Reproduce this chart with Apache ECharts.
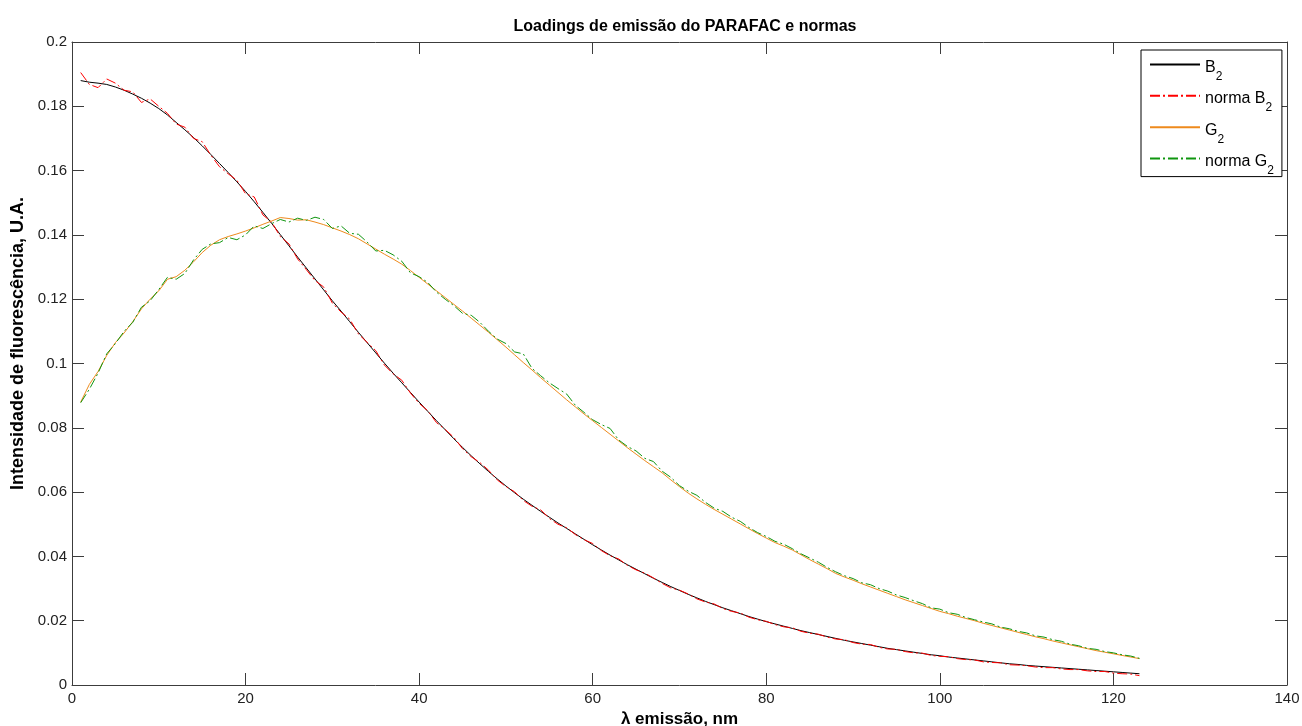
<!DOCTYPE html>
<html>
<head>
<meta charset="utf-8">
<script src="https://cdn.jsdelivr.net/npm/echarts@6/dist/echarts.min.js"></script>
<style>html,body{margin:0;padding:0;background:#fff}#c{width:1302px;height:726px}</style>
</head>
<body>
<div id="c"></div>
<script>
const titleText = 'Loadings de emissão do PARAFAC e normas';
const xName = 'λ emissão, nm';
const yName = 'Intensidade de fluorescência, U.A.';
const seriesNames = ['B2', 'norma B2', 'G2', 'norma G2'];
const legendBase = ['B', 'norma B', 'G', 'norma G'];
const legendSub = ['2', '2', '2', '2'];
const xTicks = [0, 20, 40, 60, 80, 100, 120, 140];
const yTicks = [0, 0.02, 0.04, 0.06, 0.08, 0.1, 0.12, 0.14, 0.16, 0.18, 0.2];

const lambda = Array.from({length: 123}, (_, i) => i + 1);

const B2 = [
0.1880,0.1875,0.1872,0.1868,0.1860,0.1850,0.1838,0.1825,0.1810,0.1793,
0.1773,0.1750,0.1727,0.1703,0.1677,0.1650,0.1622,0.1594,0.1565,0.1535,
0.1503,0.1470,0.1436,0.1401,0.1366,0.1331,0.1297,0.1263,0.1229,0.1195,
0.1163,0.1130,0.1097,0.1065,0.1033,0.1001,0.0970,0.0940,0.0910,0.0880,
0.0851,0.0822,0.0794,0.0766,0.0739,0.0713,0.0688,0.0664,0.0641,0.0619,
0.0598,0.0578,0.0559,0.0540,0.0522,0.0504,0.0487,0.0470,0.0453,0.0436,
0.0420,0.0404,0.0389,0.0374,0.0360,0.0346,0.0332,0.0319,0.0306,0.0294,
0.0282,0.0271,0.0260,0.0250,0.0240,0.0231,0.0222,0.0213,0.0205,0.0197,
0.0190,0.0183,0.0176,0.0169,0.0163,0.0157,0.0151,0.0145,0.0139,0.0134,
0.0129,0.0124,0.0119,0.0114,0.0110,0.0106,0.0102,0.0098,0.0094,0.0091,
0.0087,0.0084,0.0081,0.0078,0.0075,0.0072,0.0069,0.0066,0.0064,0.0061,
0.0059,0.0057,0.0055,0.0053,0.0051,0.0049,0.0047,0.0045,0.0043,0.0041,
0.0039,0.0037,0.0035];

const normaB2 = [
0.1905,0.1868,0.1858,0.1885,0.1872,0.1850,0.1845,0.1812,0.1823,0.1800,
0.1778,0.1745,0.1735,0.1700,0.1690,0.1648,0.1612,0.1590,0.1570,0.1528,
0.1518,0.1462,0.1440,0.1395,0.1372,0.1325,0.1292,0.1258,0.1238,0.1188,
0.1160,0.1138,0.1092,0.1066,0.1040,0.0995,0.0968,0.0948,0.0908,0.0876,
0.0853,0.0816,0.0795,0.0770,0.0735,0.0710,0.0692,0.0668,0.0638,0.0617,
0.0601,0.0574,0.0556,0.0545,0.0518,0.0500,0.0489,0.0468,0.0452,0.0440,
0.0418,0.0402,0.0392,0.0372,0.0358,0.0348,0.0333,0.0316,0.0302,0.0295,
0.0283,0.0268,0.0258,0.0252,0.0238,0.0229,0.0224,0.0211,0.0203,0.0198,
0.0188,0.0181,0.0178,0.0167,0.0161,0.0158,0.0149,0.0143,0.0141,0.0132,
0.0127,0.0126,0.0117,0.0112,0.0111,0.0104,0.0100,0.0099,0.0092,0.0089,
0.0088,0.0082,0.0079,0.0078,0.0072,0.0070,0.0069,0.0063,0.0062,0.0060,
0.0056,0.0054,0.0054,0.0050,0.0048,0.0048,0.0044,0.0042,0.0042,0.0037,
0.0035,0.0034,0.0029];

const G2 = [
0.0880,0.0935,0.0975,0.1025,0.1065,0.1095,0.1130,0.1170,0.1200,0.1226,
0.1262,0.1270,0.1290,0.1316,0.1345,0.1368,0.1385,0.1395,0.1403,0.1412,
0.1422,0.1433,0.1443,0.1454,0.1451,0.1446,0.1447,0.1440,0.1432,0.1422,
0.1412,0.1401,0.1388,0.1372,0.1356,0.1340,0.1325,0.1309,0.1289,0.1268,
0.1247,0.1226,0.1205,0.1184,0.1163,0.1141,0.1119,0.1097,0.1074,0.1051,
0.1027,0.1003,0.0980,0.0956,0.0933,0.0910,0.0887,0.0865,0.0843,0.0822,
0.0801,0.0780,0.0759,0.0738,0.0718,0.0698,0.0679,0.0660,0.0638,0.0617,
0.0597,0.0579,0.0562,0.0546,0.0531,0.0516,0.0501,0.0486,0.0471,0.0457,
0.0443,0.0432,0.0420,0.0405,0.0390,0.0376,0.0362,0.0347,0.0336,0.0326,
0.0315,0.0305,0.0295,0.0285,0.0275,0.0265,0.0256,0.0247,0.0238,0.0229,
0.0222,0.0214,0.0207,0.0200,0.0192,0.0185,0.0178,0.0171,0.0164,0.0157,
0.0150,0.0144,0.0137,0.0131,0.0125,0.0119,0.0113,0.0107,0.0102,0.0097,
0.0092,0.0087,0.0082];

const normaG2 = [
0.0878,0.0920,0.0970,0.1030,0.1062,0.1100,0.1128,0.1175,0.1195,0.1230,
0.1268,0.1262,0.1280,0.1322,0.1355,0.1372,0.1376,0.1392,0.1385,0.1400,
0.1428,0.1420,0.1435,0.1448,0.1440,0.1452,0.1445,0.1455,0.1448,0.1420,
0.1428,0.1405,0.1402,0.1378,0.1350,0.1352,0.1338,0.1318,0.1282,0.1270,
0.1252,0.1222,0.1200,0.1180,0.1156,0.1150,0.1128,0.1100,0.1076,0.1062,
0.1036,0.1030,0.0985,0.0962,0.0940,0.0922,0.0905,0.0870,0.0848,0.0825,
0.0810,0.0798,0.0762,0.0742,0.0728,0.0705,0.0695,0.0665,0.0646,0.0620,
0.0603,0.0590,0.0568,0.0550,0.0540,0.0522,0.0509,0.0490,0.0474,0.0462,
0.0447,0.0438,0.0424,0.0408,0.0395,0.0382,0.0366,0.0352,0.0340,0.0331,
0.0318,0.0312,0.0300,0.0292,0.0280,0.0272,0.0262,0.0253,0.0240,0.0236,
0.0225,0.0220,0.0210,0.0203,0.0196,0.0190,0.0180,0.0175,0.0167,0.0162,
0.0153,0.0149,0.0141,0.0136,0.0127,0.0122,0.0114,0.0111,0.0104,0.0100,
0.0094,0.0090,0.0083];

const seriesValues = [B2, normaB2, G2, normaG2];
const colors = ['#000000', '#ff0000', '#ee8a1c', '#0f960f'];
const dashes = ['solid', [10, 3, 2, 3], 'solid', [10, 3, 2, 3]];

const chart = echarts.init(document.getElementById('c'), null, {renderer: 'canvas'});
const FONT = 'Liberation Sans';
const axisColor = '#3c3c3c';

function baseX(pos, labels) {
  return {
    type: 'value', position: pos, min: xTicks[0], max: xTicks[xTicks.length - 1],
    interval: xTicks[1] - xTicks[0],
    axisLine: {show: true, onZero: false, lineStyle: {color: axisColor, width: 1}},
    axisTick: {show: true, inside: true, length: 12, lineStyle: {color: axisColor}},
    axisLabel: {show: labels, color: '#222', fontFamily: FONT, fontSize: 15, margin: 6},
    splitLine: {show: false}
  };
}
function baseY(pos, labels) {
  return {
    type: 'value', position: pos, min: yTicks[0], max: yTicks[yTicks.length - 1],
    interval: 0.02,
    axisLine: {show: true, onZero: false, lineStyle: {color: axisColor, width: 1}},
    axisTick: {show: true, inside: true, length: 12, lineStyle: {color: axisColor}},
    axisLabel: {show: labels, color: '#222', fontFamily: FONT, fontSize: 15, margin: 5,
      formatter: v => String(+v.toFixed(2))},
    splitLine: {show: false}
  };
}

const xMain = baseX('bottom', true);
xMain.name = xName;
xMain.nameLocation = 'middle';
xMain.nameGap = 22;
xMain.nameTextStyle = {fontFamily: FONT, fontSize: 17, fontWeight: 'bold', color: '#000'};
const yMain = baseY('left', true);
yMain.name = yName;
yMain.nameLocation = 'middle';
yMain.nameGap = 43;
yMain.nameTextStyle = {fontFamily: FONT, fontSize: 18, fontWeight: 'bold', color: '#000', padding: [0, 0, 0, 40]};

const option = {
  animation: false,
  backgroundColor: '#ffffff',
  title: {
    text: titleText, left: 680, top: 14, textAlign: 'center',
    textStyle: {fontFamily: FONT, fontSize: 16, fontWeight: 'bold', color: '#000'}
  },
  grid: {left: 72, right: 15, top: 42, bottom: 41, containLabel: false, outerBoundsMode: 'none'},
  xAxis: [xMain, baseX('top', false)],
  yAxis: [yMain, baseY('right', false)],
  legend: {
    orient: 'vertical', left: 1141, top: 50,
    padding: [4, 8, 0, 8], itemGap: 3, itemWidth: 50, itemHeight: 26,
    backgroundColor: '#fff', borderColor: '#000', borderWidth: 1, borderRadius: 0,
    itemStyle: {color: 'rgba(0,0,0,0)', borderColor: 'rgba(0,0,0,0)', borderWidth: 0, opacity: 0},
    data: seriesNames,
    formatter: name => {
      const i = seriesNames.indexOf(name);
      return '{t|' + legendBase[i] + '}{s|' + legendSub[i] + '}';
    },
    textStyle: {
      fontFamily: FONT, fontSize: 16, color: '#000',
      rich: {
        t: {fontFamily: FONT, fontSize: 16, color: '#000', lineHeight: 16, padding: [3, 0, 7, 0], verticalAlign: 'top'},
        s: {fontFamily: FONT, fontSize: 12, color: '#000', lineHeight: 12, padding: [14, 0, 0, 0], verticalAlign: 'top'}
      }
    }
  },
  series: seriesNames.map((n, k) => ({
    name: n, type: 'line', xAxisIndex: 0, yAxisIndex: 0,
    data: lambda.map((x, i) => [x, seriesValues[k][i]]),
    symbol: 'none', showSymbol: false, smooth: false,
    color: colors[k],
    lineStyle: {color: colors[k], width: 1, type: dashes[k]},
    z: 2 + k
  }))
};
chart.setOption(option);
</script>
</body>
</html>
